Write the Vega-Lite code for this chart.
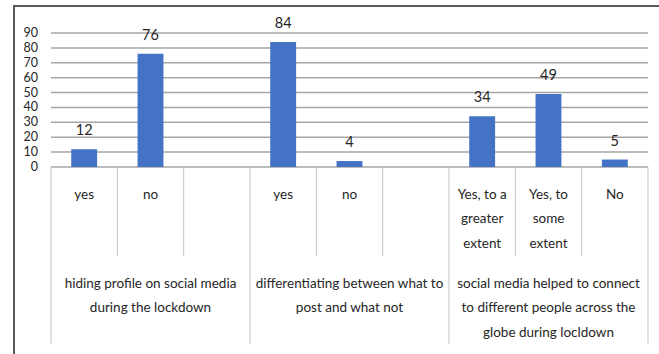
{
  "$schema": "https://vega.github.io/schema/vega-lite/v6.json",
  "width": 646,
  "height": 354,
  "autosize": {"type": "none"},
  "padding": {"left": 14, "top": 6, "right": 0, "bottom": 0},
  "background": "white",
  "config": {
    "view": {"stroke": "#5a5a5a", "strokeWidth": 2},
    "font": "Lato, 'Liberation Sans', sans-serif",
    "text": {"font": "Lato, 'Liberation Sans', sans-serif", "fontSize": 14, "color": "#262626"}
  },
  "datasets": {
    "answers": [
      {"slot": "A-yes", "answer": "yes", "value": 12},
      {"slot": "A-no", "answer": "no", "value": 76},
      {"slot": "A-blank", "answer": "", "value": null},
      {"slot": "B-yes", "answer": "yes", "value": 84},
      {"slot": "B-no", "answer": "no", "value": 4},
      {"slot": "B-blank", "answer": "", "value": null},
      {"slot": "C-greater", "answer": "Yes, to a\ngreater\nextent", "value": 34},
      {"slot": "C-some", "answer": "Yes, to\nsome\nextent", "value": 49},
      {"slot": "C-no", "answer": "No", "value": 5}
    ],
    "groups": [
      {"center": "A-no", "question": "hiding profile on social media\nduring the lockdown"},
      {"center": "B-no", "question": "differentiating between what to\npost and what not"},
      {"center": "C-some", "question": "social media helped to connect\nto different people across the\nglobe during locldown"}
    ],
    "grid": [
      {"tick": 0}, {"tick": 10}, {"tick": 20}, {"tick": 30}, {"tick": 40},
      {"tick": 50}, {"tick": 60}, {"tick": 70}, {"tick": 80}, {"tick": 90}
    ],
    "separators": [
      {"at": "A-yes", "kind": "group"},
      {"at": "A-no", "kind": "inner"},
      {"at": "A-blank", "kind": "inner"},
      {"at": "B-yes", "kind": "group"},
      {"at": "B-no", "kind": "inner"},
      {"at": "B-blank", "kind": "inner"},
      {"at": "C-greater", "kind": "group"},
      {"at": "C-some", "kind": "inner"},
      {"at": "C-no", "kind": "inner"},
      {"at": "C-no", "kind": "end"}
    ]
  },
  "layer": [
    {
      "data": {"name": "grid"},
      "mark": {"type": "rule", "color": "#a6a6a6", "strokeWidth": 1.5},
      "encoding": {
        "y": {
          "field": "tick", "type": "quantitative",
          "scale": {"domain": [-129.63, 108.13], "nice": false, "zero": false},
          "axis": null
        },
        "x": {
          "datum": "A-yes", "type": "nominal", "bandPosition": 0,
          "scale": {
            "domain": ["A-yes", "A-no", "A-blank", "B-yes", "B-no", "B-blank", "C-greater", "C-some", "C-no"],
            "paddingInner": 0, "paddingOuter": 0.3694, "align": 0.755
          },
          "axis": null
        },
        "x2": {"datum": "C-no", "bandPosition": 1}
      }
    },
    {
      "data": {"name": "grid"},
      "mark": {"type": "text", "align": "right", "baseline": "middle", "dx": -13, "fontSize": 12.5},
      "encoding": {
        "y": {"field": "tick", "type": "quantitative", "axis": null},
        "x": {"datum": "A-yes", "type": "nominal", "bandPosition": 0, "axis": null},
        "text": {"field": "tick", "type": "quantitative"}
      }
    },
    {
      "data": {"name": "separators"},
      "transform": [{"filter": "datum.kind === 'inner'"}],
      "mark": {"type": "rule", "color": "#c4c4c4", "strokeWidth": 1},
      "encoding": {
        "x": {"field": "at", "type": "nominal", "bandPosition": 0, "axis": null},
        "y": {"datum": 0, "type": "quantitative", "axis": null},
        "y2": {"datum": -59.8}
      }
    },
    {
      "data": {"name": "separators"},
      "transform": [{"filter": "datum.kind === 'group'"}],
      "mark": {"type": "rule", "color": "#c4c4c4", "strokeWidth": 1},
      "encoding": {
        "x": {"field": "at", "type": "nominal", "bandPosition": 0, "axis": null},
        "y": {"datum": 0, "type": "quantitative", "axis": null},
        "y2": {"datum": -118.6}
      }
    },
    {
      "data": {"name": "separators"},
      "transform": [{"filter": "datum.kind === 'end'"}],
      "mark": {"type": "rule", "color": "#c4c4c4", "strokeWidth": 1},
      "encoding": {
        "x": {"field": "at", "type": "nominal", "bandPosition": 1, "axis": null},
        "y": {"datum": 0, "type": "quantitative", "axis": null},
        "y2": {"datum": -118.6}
      }
    },
    {
      "data": {"name": "answers"},
      "transform": [{"filter": "datum.value != null"}],
      "mark": {"type": "bar", "color": "#4472c4", "width": {"band": 0.39}},
      "encoding": {
        "x": {"field": "slot", "type": "nominal", "sort": null, "axis": null},
        "y": {"field": "value", "type": "quantitative", "axis": null},
        "y2": {"datum": 0}
      }
    },
    {
      "data": {"name": "answers"},
      "transform": [{"filter": "datum.value != null"}],
      "mark": {"type": "text", "baseline": "middle", "align": "center", "dy": -18, "fontSize": 14.5},
      "encoding": {
        "x": {"field": "slot", "type": "nominal", "sort": null, "axis": null},
        "y": {"field": "value", "type": "quantitative", "axis": null},
        "text": {"field": "value", "type": "quantitative"}
      }
    },
    {
      "data": {"name": "answers"},
      "mark": {"type": "text", "baseline": "top", "align": "center", "dy": 21, "fontSize": 13.5, "lineBreak": "\n", "lineHeight": 24.5},
      "encoding": {
        "x": {"field": "slot", "type": "nominal", "sort": null, "axis": null},
        "y": {"datum": 0, "type": "quantitative", "axis": null},
        "text": {"field": "answer", "type": "nominal"}
      }
    },
    {
      "data": {"name": "groups"},
      "mark": {"type": "text", "baseline": "top", "align": "center", "dy": 110, "fontSize": 13.5, "lineBreak": "\n", "lineHeight": 24.3},
      "encoding": {
        "x": {"field": "center", "type": "nominal", "axis": null},
        "y": {"datum": 0, "type": "quantitative", "axis": null},
        "text": {"field": "question", "type": "nominal"}
      }
    }
  ]
}
